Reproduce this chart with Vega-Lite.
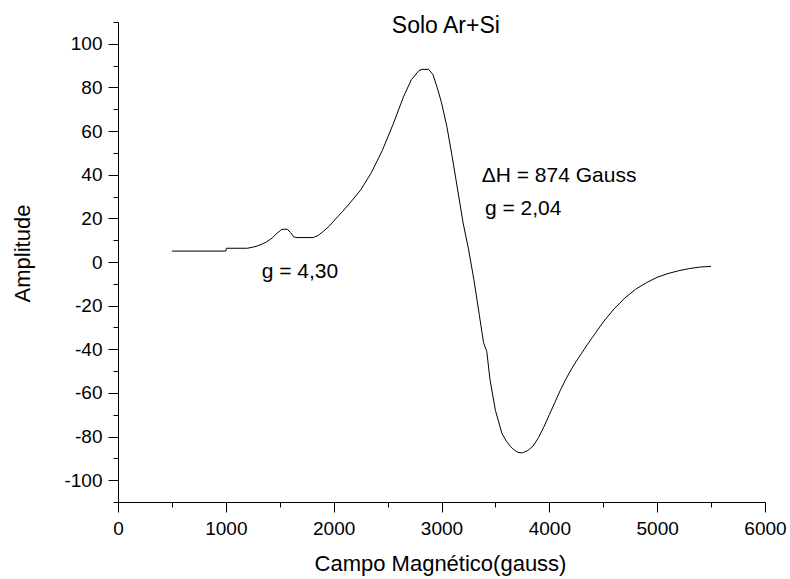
{
  "$schema": "https://vega.github.io/schema/vega-lite/v6.json",
  "width": 647,
  "height": 480,
  "autosize": {"type": "none"},
  "padding": {"left": 118, "top": 22, "right": 25, "bottom": 77},
  "background": "white",
  "config": {
    "view": {"stroke": null},
    "font": "Liberation Sans",
    "axis": {"domainColor": "black", "tickColor": "black", "labelColor": "black", "titleColor": "black", "grid": false, "titleFontWeight": "normal", "labelFont": "Liberation Sans", "titleFont": "Liberation Sans", "tickWidth": 1, "domainWidth": 1}
  },
  "datasets": {
    "curve": [
      {"field": 500, "amp": 5}, {"field": 1000, "amp": 5}, {"field": 1005, "amp": 6.3}, {"field": 1200, "amp": 6.3},
      {"field": 1250, "amp": 6.8}, {"field": 1290, "amp": 7.3}, {"field": 1340, "amp": 8.3}, {"field": 1380, "amp": 9.3},
      {"field": 1430, "amp": 11}, {"field": 1475, "amp": 13.2}, {"field": 1520, "amp": 15}, {"field": 1570, "amp": 15},
      {"field": 1600, "amp": 13.5}, {"field": 1630, "amp": 11.5}, {"field": 1660, "amp": 11.2}, {"field": 1810, "amp": 11.2},
      {"field": 1860, "amp": 12.3}, {"field": 1900, "amp": 13.9}, {"field": 1960, "amp": 16.5}, {"field": 2010, "amp": 19.3},
      {"field": 2080, "amp": 23}, {"field": 2150, "amp": 27}, {"field": 2250, "amp": 33}, {"field": 2350, "amp": 41},
      {"field": 2450, "amp": 51}, {"field": 2550, "amp": 63}, {"field": 2650, "amp": 76}, {"field": 2720, "amp": 83.5},
      {"field": 2790, "amp": 87.7}, {"field": 2820, "amp": 88.3}, {"field": 2880, "amp": 88.3}, {"field": 2920, "amp": 86},
      {"field": 2960, "amp": 80}, {"field": 3000, "amp": 73}, {"field": 3050, "amp": 62}, {"field": 3100, "amp": 48},
      {"field": 3150, "amp": 33}, {"field": 3200, "amp": 18}, {"field": 3250, "amp": 6}, {"field": 3300, "amp": -8},
      {"field": 3350, "amp": -24}, {"field": 3390, "amp": -37}, {"field": 3420, "amp": -41}, {"field": 3450, "amp": -54},
      {"field": 3500, "amp": -68}, {"field": 3560, "amp": -78.5}, {"field": 3600, "amp": -82}, {"field": 3640, "amp": -84.6},
      {"field": 3670, "amp": -86}, {"field": 3710, "amp": -87.3}, {"field": 3750, "amp": -87.5}, {"field": 3800, "amp": -86.4},
      {"field": 3850, "amp": -84.3}, {"field": 3900, "amp": -80.5}, {"field": 3950, "amp": -75.5}, {"field": 4000, "amp": -70},
      {"field": 4050, "amp": -64.5}, {"field": 4100, "amp": -59}, {"field": 4150, "amp": -54}, {"field": 4200, "amp": -49.5},
      {"field": 4250, "amp": -45.5}, {"field": 4300, "amp": -41.8}, {"field": 4350, "amp": -38}, {"field": 4400, "amp": -34.5},
      {"field": 4500, "amp": -27.5}, {"field": 4600, "amp": -21.5}, {"field": 4700, "amp": -16.5},
      {"field": 4800, "amp": -12.5}, {"field": 4900, "amp": -9.5}, {"field": 5000, "amp": -7}, {"field": 5100, "amp": -5.3},
      {"field": 5200, "amp": -4}, {"field": 5300, "amp": -3}, {"field": 5400, "amp": -2.3}, {"field": 5500, "amp": -2}
    ],
    "notes": [
      {"field": 3373, "amp": 36.8, "label": "ΔH = 874 Gauss"},
      {"field": 3403, "amp": 21.5, "label": "g = 2,04"},
      {"field": 1333, "amp": -7.5, "label": "g = 4,30"}
    ],
    "heading": [
      {"field": 3040, "amp": 105, "label": "Solo Ar+Si"}
    ]
  },
  "resolve": {"axis": {"x": "independent", "y": "independent"}},
  "layer": [
    {
      "data": {"name": "curve"},
      "mark": {"type": "line", "color": "black", "strokeWidth": 1, "interpolate": "linear"},
      "encoding": {
        "x": {
          "field": "field", "type": "quantitative",
          "scale": {"domain": [0, 6000], "nice": false, "zero": false},
          "axis": {
            "orient": "bottom",
            "title": "Campo Magnético(gauss)", "titleFontSize": 22, "titleX": 322, "titleY": 68, "titleBaseline": "alphabetic",
            "values": [0, 1000, 2000, 3000, 4000, 5000, 6000],
            "labelExpr": "datum.value + ''",
            "labelFontSize": 19, "labelBaseline": "alphabetic", "labelPadding": 22, "labelFlush": false, "labelOverlap": false,
            "tickSize": 10
          }
        },
        "y": {
          "field": "amp", "type": "quantitative",
          "scale": {"domain": [-110, 110], "nice": false, "zero": false},
          "axis": {
            "orient": "left",
            "title": "Amplitude", "titleFontSize": 22, "titleX": -89, "titleY": 231, "titleBaseline": "alphabetic", "titleAngle": -90,
            "values": [-100, -80, -60, -40, -20, 0, 20, 40, 60, 80, 100],
            "labelExpr": "datum.value + ''",
            "labelFontSize": 19, "labelPadding": 6, "labelFlush": false, "labelOverlap": false,
            "tickSize": 10
          }
        }
      }
    },
    {
      "data": {"name": "notes"},
      "mark": {"type": "text", "align": "left", "baseline": "alphabetic", "fontSize": 21, "font": "Liberation Sans", "color": "black"},
      "encoding": {
        "x": {
          "field": "field", "type": "quantitative",
          "axis": {"orient": "bottom", "title": null, "labels": false, "domain": false, "tickSize": 5,
                   "values": [500, 1500, 2500, 3500, 4500, 5500]}
        },
        "y": {
          "field": "amp", "type": "quantitative",
          "axis": {"orient": "left", "title": null, "labels": false, "domain": false, "tickSize": 5,
                   "values": [-110, -90, -70, -50, -30, -10, 10, 30, 50, 70, 90, 110]}
        },
        "text": {"field": "label"}
      }
    },
    {
      "data": {"name": "heading"},
      "mark": {"type": "text", "align": "center", "baseline": "alphabetic", "fontSize": 23, "font": "Liberation Sans", "color": "black"},
      "encoding": {
        "x": {"field": "field", "type": "quantitative", "axis": null},
        "y": {"field": "amp", "type": "quantitative", "axis": null},
        "text": {"field": "label"}
      }
    }
  ]
}
